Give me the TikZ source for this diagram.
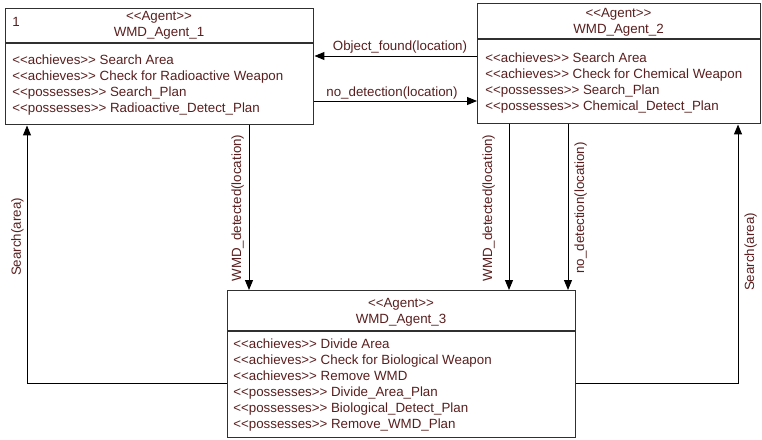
\documentclass[tikz,border=0pt]{standalone}
\usepackage{fontspec}
\setmainfont{Liberation Sans}
\usetikzlibrary{arrows.meta}
\definecolor{txt}{HTML}{5A1E1E}
\definecolor{ln}{HTML}{303030}
\begin{document}
\begin{tikzpicture}[x=0.75pt,y=-0.75pt,
  box/.style={draw=ln, line width=1.1pt, anchor=north west, inner sep=0pt},
  lbl/.style={text=txt, font=\fontsize{10}{12}\selectfont, inner sep=0pt, anchor=base west},
  hdr/.style={text=txt, font=\fontsize{10}{12}\selectfont, inner sep=0pt, anchor=base},
  vlbl/.style={text=txt, font=\fontsize{10}{12}\selectfont, inner sep=0pt, anchor=base, rotate=90},
  elbl/.style={text=txt, font=\fontsize{10}{12}\selectfont, inner sep=0pt, anchor=base},
  arr/.style={draw=black, line width=0.75pt, -{Triangle[length=7.5pt,width=6pt]}}]
\useasboundingbox (0,0) rectangle (762,439);

% boxes
\node[box, minimum width=231pt, minimum height=87pt] (a1) at (5,8) {};
\node[box, minimum width=212.25pt, minimum height=90pt] (a2) at (477,3) {};
\node[box, minimum width=261pt, minimum height=110.25pt] (a3) at (227,290) {};
\draw[draw=ln, line width=1.1pt] (a1.west |- 0,43) -- (a1.east |- 0,43);
\draw[draw=ln, line width=1.1pt] (a2.west |- 0,39) -- (a2.east |- 0,39);
\draw[draw=ln, line width=1.1pt] (a3.west |- 0,331) -- (a3.east |- 0,331);

% Agent 1 texts
\node[lbl] (a1n) at (12,26) {1};
\node[hdr] (a1s) at (159,21) {<{}<Agent>{}>};
\node[hdr] (a1t) at (159,36) {WMD\_Agent\_1};
\node[lbl] (a1l1) at (12,64) {<{}<achieves>{}> Search Area};
\node[lbl] (a1l2) at (12,80) {<{}<achieves>{}> Check for Radioactive Weapon};
\node[lbl] (a1l3) at (12,96) {<{}<possesses>{}> Search\_Plan};
\node[lbl] (a1l4) at (12,112) {<{}<possesses>{}> Radioactive\_Detect\_Plan};

% Agent 2 texts
\node[hdr] (a2s) at (618.5,17) {<{}<Agent>{}>};
\node[hdr] (a2t) at (618.5,33) {WMD\_Agent\_2};
\node[lbl] (a2l1) at (485,62) {<{}<achieves>{}> Search Area};
\node[lbl] (a2l2) at (485,78) {<{}<achieves>{}> Check for Chemical Weapon};
\node[lbl] (a2l3) at (485,94) {<{}<possesses>{}> Search\_Plan};
\node[lbl] (a2l4) at (485,110) {<{}<possesses>{}> Chemical\_Detect\_Plan};

% Agent 3 texts
\node[hdr] (a3s) at (401,307) {<{}<Agent>{}>};
\node[hdr] (a3t) at (401,323) {WMD\_Agent\_3};
\node[lbl] (a3l1) at (233,348) {<{}<achieves>{}> Divide Area};
\node[lbl] (a3l2) at (233,364) {<{}<achieves>{}> Check for Biological Weapon};
\node[lbl] (a3l3) at (233,380) {<{}<achieves>{}> Remove WMD};
\node[lbl] (a3l4) at (233,396) {<{}<possesses>{}> Divide\_Area\_Plan};
\node[lbl] (a3l5) at (233,412) {<{}<possesses>{}> Biological\_Detect\_Plan};
\node[lbl] (a3l6) at (233,428) {<{}<possesses>{}> Remove\_WMD\_Plan};

% horizontal connectors
\draw[arr] (a2.west |- 0,56) -- (a1.east |- 0,56);
\node[elbl] (e1) at (400,50) {Object\_found(location)};
\draw[arr] (a1.east |- 0,101) -- (a2.west |- 0,101);
\node[elbl] (e2) at (392,96) {no\_detection(location)};

% vertical connectors to agent 3
\draw[arr] (a1.south -| 249,0) -- (a3.north -| 249,0);
\node[vlbl] (e3) at (241,208) {WMD\_detected(location)};
\draw[arr] (a2.south -| 509,0) -- (a3.north -| 509,0);
\node[vlbl] (e4) at (492,208) {WMD\_detected(location)};
\draw[arr] (a2.south -| 568,0) -- (a3.north -| 568,0);
\node[vlbl] (e5) at (584,208) {no\_detection(location)};

% search connectors
\coordinate (cl) at (27,383);
\coordinate (cr) at (738,383);
\draw[arr] (a3.west |- cl) -- (cl) -- (a1.south -| cl);
\node[vlbl] (e6) at (21,237) {Search(area)};
\draw[arr] (a3.east |- cr) -- (cr) -- (a2.south -| cr);
\node[vlbl] (e7) at (754,252) {Search(area)};
\end{tikzpicture}
\end{document}
